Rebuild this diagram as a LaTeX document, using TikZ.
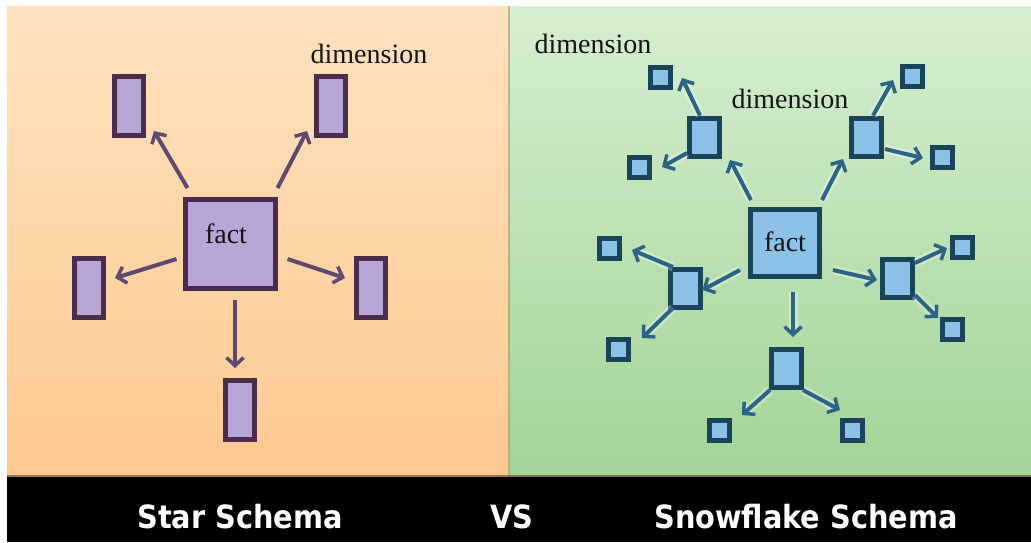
\documentclass[tikz,border=0pt]{standalone}
\usepackage{fontspec}
\setmainfont{Liberation Serif}
\newfontfamily\barfont{DejaVu Sans Condensed}
\usetikzlibrary{arrows.meta}
\definecolor{orTop}{HTML}{FEE2C0}
\definecolor{orBot}{HTML}{FDC98F}
\definecolor{grTop}{HTML}{D6EED1}
\definecolor{grBot}{HTML}{A2D496}
\definecolor{purFill}{HTML}{B7A6D6}
\definecolor{purLine}{HTML}{4A2C4C}
\definecolor{purArr}{HTML}{5E4A6E}
\definecolor{bluFill}{HTML}{8DC2E8}
\definecolor{bluLine}{HTML}{1A4457}
\definecolor{bluArr}{HTML}{2B6484}
\tikzset{
  sbox/.style={draw=purLine, fill=purFill, line width=5pt, inner sep=0pt, rectangle},
  fbox/.style={draw=bluLine, fill=bluFill, line width=5pt, inner sep=0pt, rectangle},
  lbl/.style={font=\fontsize{28}{28}\selectfont, text=black!92, inner sep=0pt, anchor=base},
  bartxt/.style={font=\barfont\bfseries\fontsize{32}{32}\selectfont, text=white, inner sep=0pt, anchor=base},
  sarr/.style={draw=purArr, line width=4pt, -{Straight Barb[length=8pt,width=17pt,line width=3.5pt]}},
  farr/.style={draw=bluArr, line width=4pt, -{Straight Barb[length=8pt,width=17pt,line width=3.5pt]},
    preaction={draw=white, draw opacity=0.3, line width=9pt}},
}
\begin{document}
\begin{tikzpicture}[x=1pt,y=-1pt]
\useasboundingbox (0,0) rectangle (1031,542);
\fill[white] (0,0) rectangle (1031,542);
% panels
\shade[top color=orTop, bottom color=orBot] (7,6) rectangle (509,477);
\shade[top color=grTop, bottom color=grBot] (509,6) rectangle (1031,477);
\draw[color=black!45!olive!60, line width=2pt, opacity=0.6] (509,6) -- (509,477);
\fill[black] (7,477) rectangle (1031,542);
\draw[color=brown!60!black, line width=2pt, opacity=0.7] (7,476) -- (1031,476);

% ---------- star schema ----------
\node[sbox, minimum width=90pt, minimum height=89pt] (sfact) at (230,244) {};
\node[lbl] (sfacttxt) at (226,243) {fact};
\foreach \n/\x/\y in {sd1/129/106, sd2/331/106, sd3/89/288, sd4/371/288, sd5/240/410}
  \node[sbox, minimum width=29pt, minimum height=59pt] (\n) at (\x,\y) {};
\node[lbl] (sdimtxt) at (369,63) {dimension};

\draw[sarr] ([shift={(5,-9)}]sfact.north west) -- ([shift={(8,-7)}]sd1.south east);
\draw[sarr] ([shift={(0,-9)}]sfact.north east) -- ([shift={(-7,-7)}]sd2.south west);
\draw[sarr] ([shift={(-6,15)}]sfact.west) -- ([shift={(9,-10)}]sd3.east);
\draw[sarr] ([shift={(10,15)}]sfact.east) -- ([shift={(-9,-10)}]sd4.west);
\draw[sarr] ([shift={(5,9)}]sfact.south) -- ([shift={(-5,-10)}]sd5.north);

% ---------- snowflake schema ----------
\node[fbox, minimum width=69pt, minimum height=67pt] (ffact) at (785,243) {};
\node[lbl] (ffacttxt) at (785,251) {fact};
\foreach \n/\x/\y in {m1/704/137, m2/866/137, m3/685/288, m4/897/278, m5/786/368}
  \node[fbox, minimum width=30pt, minimum height=38pt] (\n) at (\x,\y) {};
\foreach \n/\x/\y in {s1a/660/77, s1b/639/167, s2a/912/76, s2b/942/157, s3a/609/248,
                      s3b/618/349, s4a/962/247, s4b/952/329, s5a/719/430, s5b/852/430}
  \node[fbox, minimum width=20pt, minimum height=20pt] (\n) at (\x,\y) {};
\node[lbl] (fdim1) at (593,53) {dimension};
\node[lbl] (fdim2) at (790,108) {dimension};

\draw[farr] ([shift={(3,-7)}]ffact.north west) -- ([shift={(8.5,1.5)}]m1.south east);
\draw[farr] ([shift={(0,-7)}]ffact.north east) -- ([shift={(-5.5,0.5)}]m2.south west);
\draw[farr] ([shift={(-8,27)}]ffact.west) -- ([shift={(0,2)}]m3.east);
\draw[farr] ([shift={(11,27)}]ffact.east) -- ([shift={(-2.5,2)}]m4.west);
\draw[farr] ([shift={(8,13)}]ffact.south) -- ([shift={(7,-9.5)}]m5.north);

\draw[farr] ([shift={(-4,0)}]m1.north) -- ([shift={(9.5,1)}]s1a.east);
\draw[farr] ([shift={(0.5,-5.5)}]m1.south west) -- ([shift={(10.5,0)}]s1b.east);
\draw[farr] ([shift={(7,0)}]m2.north) -- ([shift={(-6.5,4)}]s2a.west);
\draw[farr] ([shift={(1.5,-9.5)}]m2.south east) -- ([shift={(-6.5,1)}]s2b.west);
\draw[farr] ([shift={(5.5,0.5)}]m3.north west) -- ([shift={(10.5,2)}]s3a.east);
\draw[farr] ([shift={(5.5,-1.5)}]m3.south west) -- ([shift={(11.5,1.5)}]s3b.north east);
\draw[farr] ([shift={(0.5,6.5)}]m4.north east) -- ([shift={(-2.5,1)}]s4a.west);
\draw[farr] ([shift={(0.5,-4.5)}]m4.south east) -- ([shift={(-1.5,1.5)}]s4b.north west);
\draw[farr] ([shift={(1.5,0.5)}]m5.south west) -- ([shift={(10.5,-2.5)}]s5a.north east);
\draw[farr] ([shift={(-0.5,0.5)}]m5.south east) -- ([shift={(0.5,-7.5)}]s5b.north west);

% ---------- bottom bar ----------
\node[bartxt] (t1) at (240,528) {Star Schema};
\node[bartxt] (t2) at (512,528) {VS};
\node[bartxt] (t3) at (806,528) {Snowflake Schema};
\end{tikzpicture}
\end{document}
